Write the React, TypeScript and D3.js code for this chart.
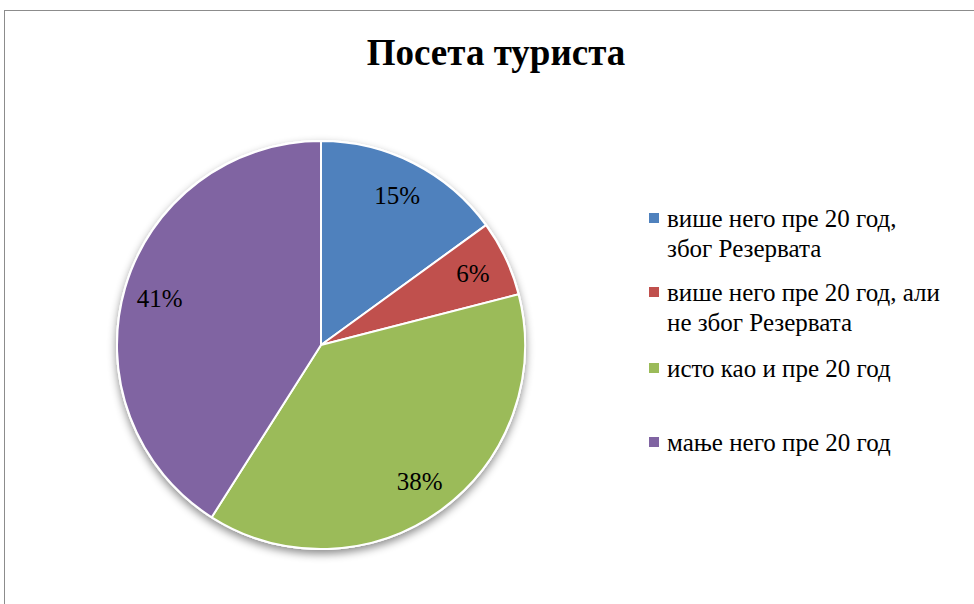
import React, { useEffect, useRef } from 'react';
import * as d3 from 'd3';

const categories = [
  'више него пре 20 год, због Резервата',
  'више него пре 20 год, али не због Резервата',
  'исто као и пре 20 год',
  'мање него пре 20 год',
];
const legendLines = [
  ['више него пре 20 год,', 'због Резервата'],
  ['више него пре 20 год, али', 'не због Резервата'],
  ['исто као и пре 20 год'],
  ['мање него пре 20 год'],
];
const values = [15, 6, 38, 41];
const colors = ['#4f81bd', '#c0504d', '#9bbb59', '#8064a2'];

function App() {
  const ref = useRef<SVGSVGElement | null>(null);

  useEffect(() => {
    if (!ref.current) return;
    const width = 974;
    const height = 604;
    const svg = d3.select(ref.current).attr('width', width).attr('height', height);
    svg.selectAll('*').remove();

    const font = '"Times New Roman", "Liberation Serif", Tinos, "DejaVu Serif", serif';

    // shadow under the pie
    const defs = svg.append('defs');
    const f = defs.append('filter').attr('id', 'shadow')
      .attr('x', '-20%').attr('y', '-20%').attr('width', '140%').attr('height', '140%');
    f.append('feDropShadow').attr('dx', 0).attr('dy', 4).attr('stdDeviation', 4)
      .attr('flood-color', '#000').attr('flood-opacity', 0.45);

    // chart border (runs off the right and bottom edges)
    svg.append('rect')
      .attr('x', 4.5).attr('y', 10.5).attr('width', 1000).attr('height', 700)
      .attr('fill', 'white').attr('stroke', '#8c8c8c').attr('stroke-width', 1);

    svg.append('text')
      .attr('x', 496).attr('y', 65)
      .attr('text-anchor', 'middle')
      .attr('font-family', font).attr('font-weight', 'bold').attr('font-size', 37)
      .text('Посета туриста');

    const cx = 321, cy = 345, r = 204;
    const pie = d3.pie<number>().sort(null).value(d => d);
    const arcs = pie(values);
    const arc = d3.arc<d3.PieArcDatum<number>>().innerRadius(0).outerRadius(r);
    const labelArc = d3.arc<d3.PieArcDatum<number>>().innerRadius(168).outerRadius(168);

    const g = svg.append('g').attr('transform', `translate(${cx},${cy})`);
    g.append('circle').attr('r', r + 1).attr('fill', 'white').attr('filter', 'url(#shadow)');
    g.selectAll('path.slice')
      .data(arcs)
      .join('path')
      .attr('class', 'slice')
      .attr('d', arc)
      .attr('fill', (d, i) => colors[i])
      .attr('stroke', 'white').attr('stroke-width', 2).attr('stroke-linejoin', 'round');

    g.selectAll('text.lbl')
      .data(arcs)
      .join('text')
      .attr('class', 'lbl')
      .attr('transform', d => `translate(${labelArc.centroid(d)})`)
      .attr('text-anchor', 'middle')
      .attr('dy', '0.35em')
      .attr('font-family', font).attr('font-size', 25)
      .text(d => `${d.data}%`);

    // legend: y is the centre of each colour square
    const legendY = [218, 292, 368, 442];
    const lg = svg.append('g');
    categories.forEach((c, i) => {
      const item = lg.append('g').attr('transform', `translate(649,${legendY[i]})`);
      item.append('rect').attr('x', 0).attr('y', -5).attr('width', 10).attr('height', 10)
        .attr('fill', colors[i]);
      legendLines[i].forEach((line, j) => {
        item.append('text')
          .attr('x', 18).attr('y', 9 + j * 30)
          .attr('font-family', font).attr('font-size', 25)
          .text(line);
      });
    });
  }, []);

  return <svg ref={ref} style={{ position: 'absolute', left: 0, top: 0 }} />;
}

export default App;
